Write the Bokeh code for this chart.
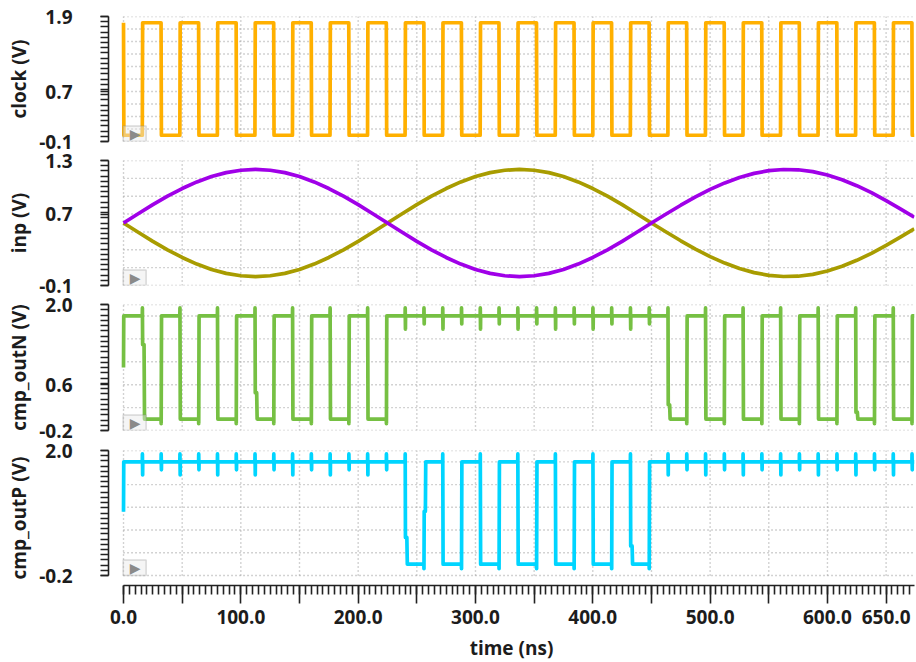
import numpy as np
from bokeh.plotting import figure
from bokeh.models import Range1d, FixedTicker, NumeralTickFormatter, BoxAnnotation, Label
from bokeh.layouts import column
from bokeh.embed import file_html
from bokeh.resources import INLINE

# ---------------- data ----------------
t_start, t_end = -12.8, 674.2
x_major = [0, 50, 100, 150, 200, 250, 300, 350, 400, 450, 500, 550, 600, 650]
x_labeled = [0, 100, 200, 300, 400, 500, 600, 650]

clock_rise = [16, 48, 80, 112, 144, 176, 208, 240, 272, 304, 336, 368, 400, 432,
              464, 496, 528, 560, 592, 624, 656]
clock_fall = [32, 64, 96, 128, 160, 192, 224, 256, 288, 320, 352, 384, 416, 448,
              480, 512, 544, 576, 608, 640, 672]
clock_high = 1.8
clock_low = 0.0

inp_t = [0, 12.5, 25, 37.5, 50, 62.5, 75, 87.5, 100, 112.5, 125, 137.5, 150, 162.5,
         175, 187.5, 200, 212.5, 225, 237.5, 250, 262.5, 275, 287.5, 300, 312.5,
         325, 337.5, 350, 362.5, 375, 387.5, 400, 412.5, 425, 437.5, 450, 462.5,
         475, 487.5, 500, 512.5, 525, 537.5, 550, 562.5, 575, 587.5, 600, 612.5,
         625, 637.5, 650, 662.5, 674]
inp_p = [0.600, 0.704, 0.805, 0.900, 0.986, 1.060, 1.120, 1.164, 1.191, 1.200,
         1.191, 1.164, 1.120, 1.060, 0.986, 0.900, 0.805, 0.704, 0.600, 0.496,
         0.395, 0.300, 0.214, 0.140, 0.080, 0.036, 0.009, 0.000, 0.009, 0.036,
         0.080, 0.140, 0.214, 0.300, 0.395, 0.496, 0.600, 0.701, 0.799, 0.892,
         0.976, 1.049, 1.110, 1.156, 1.186, 1.199, 1.196, 1.175, 1.137, 1.085,
         1.018, 0.940, 0.851, 0.756, 0.665]
inp_n = [0.600, 0.496, 0.395, 0.300, 0.214, 0.140, 0.080, 0.036, 0.009, 0.000,
         0.009, 0.036, 0.080, 0.140, 0.214, 0.300, 0.395, 0.496, 0.600, 0.704,
         0.805, 0.900, 0.986, 1.060, 1.120, 1.164, 1.191, 1.200, 1.191, 1.164,
         1.120, 1.060, 0.986, 0.900, 0.805, 0.704, 0.600, 0.499, 0.401, 0.308,
         0.224, 0.151, 0.090, 0.044, 0.014, 0.001, 0.004, 0.025, 0.063, 0.115,
         0.182, 0.260, 0.349, 0.444, 0.535]

out_high = 1.8
out_low = 0.0
outN_start = 0.90
outP_start = 0.92
outN_low_at = [16, 48, 80, 112, 144, 176, 208, 464, 496, 528, 560, 592, 624, 656]
outP_low_at = [240, 272, 304, 336, 368, 400, 432]
outN_fall_mid = {16: 1.30, 112: 0.46, 464: 0.25, 624: 0.12}
outN_rise_mid = {}
outP_fall_mid = {240: 0.47, 432: 0.32}
outP_rise_mid = {256: 0.93}
glitch_top = 1.94
glitch_dip_rise = 1.57
glitch_dip_fall = 1.66
undershoot = -0.08

# ---------------- waveform assembly ----------------
def clock_wave():
    xs, ys = [0.0, 0.3], [clock_high, clock_low]
    for r, f in zip(clock_rise, clock_fall):
        xs += [r, r + 0.3, f, f + 0.3]
        ys += [clock_low, clock_high, clock_high, clock_low]
    xs.append(t_end); ys.append(clock_low)
    return xs, ys


def comparator(start, low_at, fall_mid, rise_mid):
    edges = sorted([(t, "r") for t in clock_rise] + [(t, "f") for t in clock_fall])
    xs, ys = [0.0, 0.2], [start, out_high]
    low = False
    for t, kind in edges:
        if kind == "r":
            if t in low_at:
                xs += [t, t + 0.1]; ys += [out_high, glitch_top]
                if t in fall_mid:
                    m = fall_mid[t]
                    xs += [t + 0.3, t + 1.5, t + 1.9]; ys += [m, m, out_low]
                else:
                    xs += [t + 0.4]; ys += [out_low]
                low = True
            else:
                xs += [t, t + 0.1, t + 0.3, t + 0.4]
                ys += [out_high, glitch_top, glitch_dip_rise, out_high]
        else:
            if low:
                xs += [t, t + 0.1]; ys += [out_low, undershoot]
                if t in rise_mid:
                    m = rise_mid[t]
                    xs += [t + 0.3, t + 1.3, t + 1.6]; ys += [m, m, out_high]
                else:
                    xs += [t + 0.4]; ys += [out_high]
                low = False
            else:
                xs += [t, t + 0.1, t + 0.3, t + 0.4]
                ys += [out_high, glitch_top, glitch_dip_fall, out_high]
    xs.append(t_end); ys.append(out_low if low else out_high)
    return xs, ys

# ---------------- styling ----------------
FONT = "Open Sans"
TXT = "#1c1c1c"
GRID = "#a6a6a6"
x_range = Range1d(t_start, t_end)


def style_axis(a):
    a.axis_label_text_font = FONT
    a.axis_label_text_font_size = "19px"
    a.axis_label_text_font_style = "bold"
    a.axis_label_text_color = TXT
    a.major_label_text_font = FONT
    a.major_label_text_font_size = "19px"
    a.major_label_text_font_style = "bold"
    a.major_label_text_color = TXT
    a.axis_line_color = "#222222"
    a.axis_line_width = 1.6
    a.major_tick_line_color = "#222222"
    a.minor_tick_line_color = "#222222"
    a.major_tick_line_width = 1.6
    a.minor_tick_line_width = 1.6
    a.major_tick_in = 0
    a.minor_tick_in = 0


def panel(ylo, yhi, yticks, gridy, label, frame_h, top, bottom, overlap=0,
          ext_px=0, xaxis=False):
    ext = ext_px * (yhi - ylo) / (frame_h - ext_px) if ext_px else 0.0
    p = figure(frame_width=806, frame_height=frame_h, x_range=x_range,
               y_range=Range1d(ylo - ext, yhi), output_backend="svg",
               toolbar_location=None, min_border_left=108, min_border_right=2,
               min_border_top=top, min_border_bottom=bottom,
               x_axis_location="below" if xaxis else None,
               margin=(-overlap, 0, 0, 0))
    p.grid.visible = False
    p.outline_line_color = None
    p.background_fill_color = "white"
    p.border_fill_color = None
    # dotted grid
    p.segment(x0=x_major, x1=x_major, y0=ylo, y1=yhi, line_color=GRID,
              line_width=1.4, line_dash="1 3")
    p.segment(x0=0, x1=t_end, y0=gridy, y1=gridy, line_color=GRID,
              line_width=1.4, line_dash="1 3")
    ax = p.yaxis[0]
    minor = list(np.linspace(ylo, yhi, 25))
    ax.ticker = FixedTicker(ticks=yticks, minor_ticks=minor)
    ax.formatter = NumeralTickFormatter(format="0.0")
    ax.bounds = (ylo, yhi)
    ax.axis_label = label
    style_axis(ax)
    ax.major_tick_out = 8
    ax.minor_tick_out = 8
    ax.major_label_standoff = 28
    ax.axis_label_standoff = 4
    if xaxis:
        xa = p.xaxis[0]
        xa.ticker = FixedTicker(ticks=x_major, minor_ticks=list(range(0, 675, 5)))
        xa.formatter = NumeralTickFormatter(format="0.0")
        xa.major_label_overrides = {t: "" for t in x_major if t not in x_labeled}
        xa.bounds = (0, t_end)
        xa.axis_label = "time (ns)"
        style_axis(xa)
        xa.major_tick_out = 18
        xa.minor_tick_out = 9
        xa.major_label_standoff = 6
        xa.axis_label_standoff = 8
    return p


def play_icon(p, ylo, yhi, frame_h_data_px):
    vpp = (yhi - ylo) / frame_h_data_px
    box = BoxAnnotation(left=-0.3, right=19.3, bottom=ylo, top=ylo + 15.5 * vpp,
                        fill_color="#e8e8e8", fill_alpha=0.45, line_color="#8c8c8c",
                        line_width=1.5, level="overlay")
    p.add_layout(box)
    p.add_layout(Label(x=9.8, y=ylo + 7.5 * vpp, text="\u25b6", text_align="center",
                       text_baseline="middle", text_color="#8a8a8a",
                       text_font="DejaVu Sans", text_font_size="14px", level="overlay"))


LW = 3.7

p1 = panel(-0.1, 1.9, [-0.1, 0.7, 1.9], [-0.1, 0.1, 0.3, 0.5, 0.7, 0.9, 1.1, 1.3, 1.5, 1.7, 1.9],
           "clock (V)", 125, 16, 16)
cx, cy = clock_wave()
p1.line(cx, cy, line_color="#FFB000", line_width=LW, line_join="round")
play_icon(p1, -0.1, 1.9, 125)

p2 = panel(-0.1, 1.3, [-0.1, 0.7, 1.3], [-0.1, 0.1, 0.3, 0.5, 0.7, 0.9, 1.1, 1.3],
           "inp (V)", 125, 16, 16, overlap=13)
p2.line(inp_t, inp_n, line_color="#A89C00", line_width=LW, line_join="round")
p2.line(inp_t, inp_p, line_color="#A000E8", line_width=LW, line_join="round")
play_icon(p2, -0.1, 1.3, 125)

cmp_grid = [-0.2, 0.2, 0.6, 1.0, 1.4, 1.8, 2.0]
p3 = panel(-0.2, 2.0, [-0.2, 0.6, 2.0], cmp_grid, "cmp_outN (V)", 126, 16, 16, overlap=13)
nx, ny = comparator(outN_start, outN_low_at, outN_fall_mid, outN_rise_mid)
p3.line(nx, ny, line_color="#76C043", line_width=LW, line_join="round")
play_icon(p3, -0.2, 2.0, 126)

p4 = panel(-0.2, 2.0, [-0.2, 2.0], cmp_grid, "cmp_outP (V)", 135, 16, 77, overlap=12,
           ext_px=10, xaxis=True)
px_, py_ = comparator(outP_start, outP_low_at, outP_fall_mid, outP_rise_mid)
p4.line(px_, py_, line_color="#00D5FF", line_width=LW, line_join="round")
play_icon(p4, -0.2, 2.0, 125)

layout = column(p1, p2, p3, p4)
open("out.html", "w").write(file_html(layout, INLINE))
